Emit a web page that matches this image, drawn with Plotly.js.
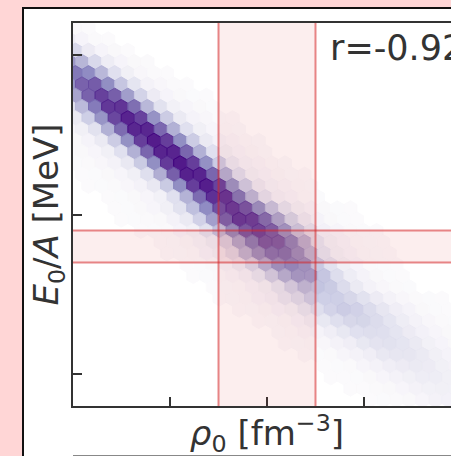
<!DOCTYPE html>
<html>
<head>
<meta charset="utf-8">
<script src="https://cdn.plot.ly/plotly-3.0.1.min.js"></script>
<style>
  html, body { margin: 0; padding: 0; width: 451px; height: 456px; overflow: hidden; background: #ffd6d6; }
  #panel { position: absolute; left: 22px; top: 7px; width: 640px; height: 640px; background: #fff;
           border-left: 2px solid #111; border-top: 2px solid #111; }
  #chart { position: absolute; left: 0; top: 0; }
  #nextAxis { position: absolute; left: 49px; top: 446px; width: 600px; height: 0; border-top: 2px solid #888; }
</style>
</head>
<body>
<div id="panel"><div id="chart"></div><div id="nextAxis"></div></div>
<script>
// Axis ranges and ticks
const rhoRange = [0.12, 0.20];
const energyRange = [-21, -9];
const rhoTicks = [0.12, 0.14, 0.16, 0.18];
const energyTicks = [-20, -15, -10];

// Empirical saturation window
const rhoBand = [0.15, 0.17];
const energyBand = [-16.5, -15.5];
const corrLabel = 'r=-0.92';

// Hexbin lattice: bin width in rho0, row spacing in E0/A, centre of the first bin
const hexWidth = 0.0027;
const hexRowStep = 0.353;
const hexFirstRowE = -9.16;
const hexFirstColRho = 0.1205;

// Counts per hexagon, one row per lattice row from the top.
// rowStart = column index of the first listed bin; odd rows sit half a bin to the left.
const rowStart = [0, 0, 0, 0, 0, 0, 0, 0, 0, 0, 0, 0, 0, 1, 1, 3, 3, 4, 5, 7, 7, 9, 9, 11, 11, 13, 14, 16, 16, 18, 19, 20, 21, 23];
const rowCounts = [
  [3, 1],
  [14, 7, 3, 1],
  [27, 15, 7, 4, 1],
  [55, 43, 27, 14, 7, 4, 3],
  [68, 61, 42, 23, 12, 5, 3, 1],
  [57, 75, 77, 60, 36, 20, 9, 5, 3, 1],
  [50, 75, 86, 76, 53, 30, 15, 7, 4, 2, 1],
  [21, 41, 67, 89, 90, 71, 42, 22, 11, 6, 4, 2],
  [16, 32, 57, 84, 96, 85, 58, 33, 16, 8, 5, 2, 1],
  [6, 12, 22, 45, 72, 95, 95, 73, 45, 23, 12, 6, 3, 2],
  [4, 8, 16, 33, 59, 87, 99, 87, 60, 33, 16, 8, 5, 3, 2],
  [2, 4, 6, 12, 23, 45, 74, 96, 96, 74, 45, 23, 12, 6, 4, 2],
  [2, 3, 5, 9, 17, 34, 60, 88, 100, 87, 59, 33, 16, 8, 5, 3, 2],
  [1, 2, 4, 6, 12, 24, 46, 76, 97, 96, 74, 45, 23, 11, 6, 4, 2, 1],
  [1, 2, 3, 5, 9, 17, 34, 60, 87, 98, 85, 57, 32, 15, 8, 5, 3, 2],
  [1, 2, 4, 6, 11, 23, 44, 72, 92, 90, 68, 41, 21, 10, 6, 3, 2],
  [1, 2, 4, 6, 12, 22, 39, 61, 81, 88, 79, 58, 36, 20, 11, 6, 4, 2, 1],
  [1, 2, 3, 4, 9, 16, 31, 52, 75, 89, 87, 71, 48, 29, 15, 8, 4, 2, 1],
  [1, 2, 3, 7, 11, 22, 38, 59, 77, 84, 75, 55, 34, 20, 10, 6, 3, 2, 1],
  [1, 2, 4, 8, 14, 26, 45, 64, 76, 75, 61, 41, 20, 11, 6, 3, 2, 1],
  [1, 2, 3, 7, 12, 22, 39, 55, 67, 68, 56, 39, 20, 11, 6, 3, 2, 1],
  [1, 2, 4, 8, 15, 27, 43, 56, 61, 55, 35, 22, 12, 7, 3, 2, 1],
  [1, 2, 3, 5, 10, 18, 31, 44, 53, 52, 36, 25, 14, 8, 4, 2, 1],
  [1, 2, 3, 6, 11, 19, 30, 40, 37, 34, 26, 16, 9, 5, 3, 2],
  [1, 2, 3, 6, 10, 17, 25, 32, 32, 32, 28, 22, 15, 9, 5, 3, 2, 1],
  [1, 2, 4, 7, 11, 18, 25, 30, 33, 31, 26, 19, 13, 8, 4, 2, 1, 1],
  [1, 2, 4, 7, 13, 18, 24, 28, 29, 26, 20, 14, 9, 5, 3, 2],
  [2, 3, 5, 8, 13, 18, 23, 25, 24, 20, 15, 10, 6, 4, 2],
  [1, 2, 3, 5, 9, 13, 18, 21, 22, 20, 16, 11, 7, 4],
  [1, 2, 3, 6, 9, 13, 17, 19, 19, 16, 12, 8, 5],
  [1, 2, 3, 6, 9, 13, 15, 16, 15, 12, 9],
  [1, 1, 2, 4, 6, 9, 12, 14, 14, 12, 9],
  [1, 1, 3, 4, 6, 9, 11, 12, 11],
  [1, 2, 3, 4, 6, 9, 10, 10]
];
const countMax = 100;

// matplotlib "Purples" with the hexbin alpha folded in
const hexAlpha = 0.9;
const purples = ['#fcfbfd', '#efedf5', '#dadaeb', '#bcbddc', '#9e9ac8', '#807dba', '#6a51a3', '#54278f', '#3f007d'];
function withAlpha(hex, a) {
  const n = parseInt(hex.slice(1), 16);
  return 'rgba(' + (n >> 16) + ',' + ((n >> 8) & 255) + ',' + (n & 255) + ',' + a + ')';
}
const hexScale = purples.map((c, i) => [i / (purples.length - 1), withAlpha(c, hexAlpha)]);

// Bin centres
const binRho = [], binE = [], binCount = [];
rowCounts.forEach((row, j) => {
  const shift = (j % 2) ? -hexWidth / 2 : 0;
  row.forEach((c, k) => {
    binRho.push(hexFirstColRho + shift + (rowStart[j] + k) * hexWidth);
    binE.push(hexFirstRowE - j * hexRowStep);
    binCount.push(c);
  });
});

// Figure geometry
const W = 537, H = 457;
const margin = { l: 49, r: 100, t: 14, b: 60 };
const plotW = W - margin.l - margin.r;
// marker "size" of a pointy-top hexagon is its height; width = size * sqrt(3) / 2
const hexPx = hexWidth / (rhoRange[1] - rhoRange[0]) * plotW;
const hexSize = hexPx * 2 / Math.sqrt(3);

const ink = '#333';
const font = { family: 'DejaVu Sans', size: 34, color: ink };
const bandFill = 'rgba(214,39,40,0.08)';
const bandLine = { color: 'rgba(214,39,40,0.55)', width: 2 };

const hexTrace = {
  type: 'scatter', mode: 'markers',
  x: binRho, y: binE,
  marker: {
    symbol: 'hexagon', size: hexSize,
    color: binCount, colorscale: hexScale, cmin: 0, cmax: countMax,
    line: { color: binCount, colorscale: hexScale, cmin: 0, cmax: countMax, width: 1 }
  },
  hoverinfo: 'skip', showlegend: false
};

const axisStyle = {
  showgrid: false, zeroline: false, showticklabels: false,
  ticks: 'inside', ticklen: 9, tickwidth: 2, tickcolor: ink,
  showline: true, linecolor: ink, linewidth: 2, mirror: true
};

const shapes = [
  { type: 'rect', xref: 'x', yref: 'paper', x0: rhoBand[0], x1: rhoBand[1], y0: 0, y1: 1, fillcolor: bandFill, line: { width: 0 }, layer: 'above' },
  { type: 'rect', xref: 'paper', yref: 'y', x0: 0, x1: 1, y0: energyBand[0], y1: energyBand[1], fillcolor: bandFill, line: { width: 0 }, layer: 'above' }
];
rhoBand.forEach(v => shapes.push({ type: 'line', xref: 'x', yref: 'paper', x0: v, x1: v, y0: 0, y1: 1, line: bandLine, layer: 'above' }));
energyBand.forEach(v => shapes.push({ type: 'line', xref: 'paper', yref: 'y', x0: 0, x1: 1, y0: v, y1: v, line: bandLine, layer: 'above' }));

const layout = {
  width: W, height: H, margin: margin,
  paper_bgcolor: '#fff', plot_bgcolor: '#fff',
  showlegend: false,
  xaxis: Object.assign({}, axisStyle, {
    range: rhoRange, tickvals: rhoTicks,
    title: { text: '<i>ρ</i><sub>0</sub> [fm<sup>−3</sup>]', font: font, standoff: 14 }
  }),
  yaxis: Object.assign({}, axisStyle, {
    range: energyRange, tickvals: energyTicks,
    title: { text: '<i>E</i><sub>0</sub>/<i>A</i> [MeV]', font: font, standoff: 2 }
  }),
  shapes: shapes,
  annotations: [{
    xref: 'paper', yref: 'paper', x: 0.657, y: 1, xanchor: 'left', yanchor: 'top', yshift: -3,
    text: corrLabel, showarrow: false, font: { family: font.family, size: 35, color: ink }
  }]
};

Plotly.newPlot('chart', [hexTrace], layout, { staticPlot: true, displayModeBar: false });
</script>
</body>
</html>
